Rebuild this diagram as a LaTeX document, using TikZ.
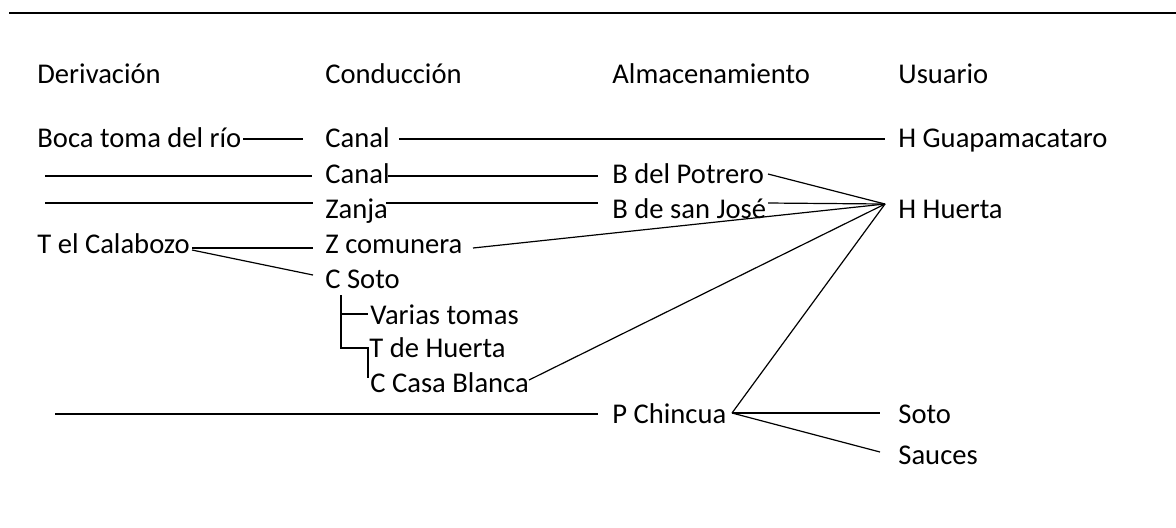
\documentclass[tikz,border=0pt]{standalone}
\usepackage{fontspec}
\setmainfont{Carlito}
\begin{document}
\begin{tikzpicture}[x=0.5pt,y=-0.5pt,
  lbl/.style={anchor=base west,inner sep=0pt,font=\fontsize{14.3}{17}\selectfont},
  conn/.style={line width=0.6pt},
  toprule/.style={line width=1.3pt}]
\useasboundingbox (0,0) rectangle (1176,527);
% top rule
\coordinate (r1) at (9,13);
\coordinate (r2) at (1176,13);
\draw[toprule] (r1) -- (r2);
% headers
\node[lbl] (hD) at (37,83) {Derivación};
\node[lbl] (hC) at (325,83) {Conducción};
\node[lbl] (hA) at (612,83) {Almacenamiento};
\node[lbl] (hU) at (898,83) {Usuario};
% labels
\node[lbl] (boca) at (37,147) {Boca toma del río};
\node[lbl] (canalA) at (325,147) {Canal};
\node[lbl] (guapa) at (898,147) {H Guapamacataro};
\node[lbl] (canalB) at (325,183) {Canal};
\node[lbl] (potrero) at (612,183) {B del Potrero};
\node[lbl] (zanja) at (325,218) {Zanja};
\node[lbl] (jose) at (612,218) {B de san José};
\node[lbl] (huerta) at (898,218) {H Huerta};
\node[lbl] (calabozo) at (37,253) {T el Calabozo};
\node[lbl] (comunera) at (325,253) {Z comunera};
\node[lbl] (csoto) at (325,288) {C Soto};
\node[lbl] (varias) at (370,324) {Varias tomas};
\node[lbl] (thuerta) at (369,357) {T de Huerta};
\node[lbl] (casab) at (370,392) {C Casa Blanca};
\node[lbl] (chincua) at (612,423) {P Chincua};
\node[lbl] (soto) at (898,423) {Soto};
\node[lbl] (sauces) at (898,464) {Sauces};
% connector end points
\coordinate (hub) at (885,204);
\coordinate (a1) at (243,139); \coordinate (a2) at (303,139);
\coordinate (a3) at (399,139); \coordinate (a4) at (885,139);
\coordinate (b1) at (45,176);  \coordinate (b2) at (312,176);
\coordinate (b3) at (388,176); \coordinate (b4) at (598,176);
\coordinate (b5) at (768,174);
\coordinate (c1) at (45,203);  \coordinate (c2) at (313,203);
\coordinate (c3) at (386,203); \coordinate (c4) at (598,203);
\coordinate (c5) at (768,203);
\coordinate (d1) at (192,248); \coordinate (d2) at (313,248);
\coordinate (d3) at (473,248);
\coordinate (e0) at (192,250); \coordinate (e1) at (313,275);
\coordinate (t0) at (341,295); \coordinate (t1) at (368,314);
\coordinate (t2) at (368,348); \coordinate (t3) at (368,378);
\coordinate (f1) at (529,380);
\coordinate (p1) at (55,414);  \coordinate (p2) at (598,414);
\coordinate (p3) at (732,413); \coordinate (p4) at (880,413);
\coordinate (p5) at (880,452);
% connectors
\draw[conn] (a1) -- (a2);
\draw[conn] (a3) -- (a4);
\draw[conn] (b1) -- (b2);
\draw[conn] (b3) -- (b4);
\draw[conn] (b5) -- (hub);
\draw[conn] (c1) -- (c2);
\draw[conn] (c3) -- (c4);
\draw[conn] (c5) -- (hub);
\draw[conn] (d1) -- (d2);
\draw[conn] (d3) -- (hub);
\draw[conn] (e0) -- (e1);
\draw[conn] (t0) |- (t1);
\draw[conn] (t0) |- (t2) -- (t3);
\draw[conn] (f1) -- (hub);
\draw[conn] (p1) -- (p2);
\draw[conn] (p3) -- (hub);
\draw[conn] (p3) -- (p4);
\draw[conn] (p3) -- (p5);
\end{tikzpicture}
\end{document}
